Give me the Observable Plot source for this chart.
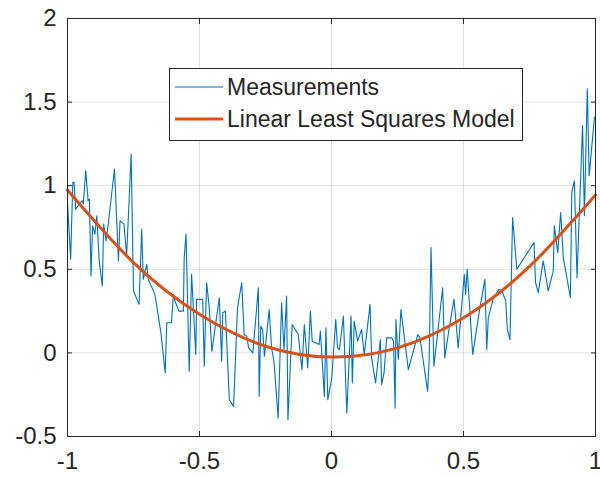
<!DOCTYPE html>
<html>
<head>
<meta charset="utf-8">
<script src="https://cdn.jsdelivr.net/npm/d3@7"></script>
<script src="https://cdn.jsdelivr.net/npm/@observablehq/plot@0.6"></script>
<style>
  body { margin: 0; background: #fff; }
  #wrap { position: relative; width: 600px; height: 477px; font-family: "Liberation Sans", Arial, sans-serif; color: #262626; }
  #wrap svg { display: block; }
  #legend { position: absolute; left: 169px; top: 68px; width: 352px; height: 71px; border: 1px solid #262626; background: #fff; }
  #legend .row { position: absolute; left: 0; height: 30px; display: flex; align-items: center; font-size: 23px; white-space: nowrap; }
  #legend svg { margin-left: 5px; margin-right: 4px; }
</style>
</head>
<body>
<div id="wrap"></div>
<script>
const measX = [-1.000,-0.988,-0.980,-0.975,-0.969,-0.960,-0.950,-0.944,-0.940,-0.931,-0.922,-0.917,-0.911,-0.905,-0.896,-0.889,-0.880,-0.868,-0.863,-0.854,-0.845,-0.822,-0.807,-0.801,-0.786,-0.776,-0.759,-0.750,-0.729,-0.719,-0.713,-0.700,-0.694,-0.669,-0.646,-0.630,-0.624,-0.606,-0.599,-0.593,-0.578,-0.561,-0.558,-0.551,-0.539,-0.530,-0.514,-0.511,-0.488,-0.482,-0.473,-0.463,-0.453,-0.441,-0.425,-0.416,-0.412,-0.402,-0.387,-0.371,-0.356,-0.340,-0.331,-0.321,-0.314,-0.298,-0.277,-0.274,-0.268,-0.261,-0.254,-0.236,-0.227,-0.218,-0.202,-0.189,-0.180,-0.170,-0.165,-0.149,-0.126,-0.112,-0.103,-0.090,-0.080,-0.073,-0.047,-0.042,-0.027,-0.021,-0.014,0.001,0.016,0.023,0.030,0.045,0.058,0.074,0.079,0.086,0.099,0.114,0.124,0.146,0.152,0.167,0.185,0.190,0.199,0.209,0.228,0.235,0.241,0.244,0.253,0.263,0.270,0.291,0.327,0.335,0.364,0.370,0.377,0.388,0.421,0.429,0.446,0.464,0.480,0.503,0.508,0.514,0.535,0.560,0.581,0.588,0.594,0.612,0.634,0.646,0.660,0.666,0.676,0.686,0.702,0.767,0.773,0.783,0.802,0.821,0.840,0.844,0.857,0.868,0.878,0.905,0.910,0.920,0.930,0.951,0.958,0.969,0.976,0.996];
const measY = [0.90,0.56,1.02,1.02,0.86,0.88,0.90,0.91,0.89,1.09,0.91,0.92,0.46,0.76,0.71,0.82,0.55,0.40,0.77,0.67,0.78,1.10,0.55,0.79,0.77,0.58,1.19,0.37,0.29,0.74,0.44,0.53,0.44,0.35,0.12,-0.12,0.18,0.18,0.35,0.31,0.25,0.25,0.57,0.71,-0.11,0.47,-0.01,0.32,0.32,-0.08,0.42,0.27,0.01,0.15,0.33,-0.05,0.24,0.25,-0.28,-0.32,0.27,0.42,0.11,0.10,0.03,0.00,0.39,-0.26,0.16,0.14,-0.02,0.26,0.03,-0.05,-0.39,0.30,0.02,0.34,-0.40,0.17,0.11,-0.10,0.17,-0.09,0.25,0.07,0.05,0.13,-0.26,0.15,-0.28,-0.15,0.20,0.03,0.02,0.22,-0.36,0.22,-0.18,0.19,0.07,0.14,-0.01,0.29,-0.03,-0.18,0.08,-0.19,-0.12,0.09,0.09,0.07,-0.33,0.20,-0.04,0.26,0.17,-0.10,0.11,0.09,-0.23,-0.04,0.63,-0.08,0.39,-0.03,0.15,0.32,0.03,0.47,0.35,0.50,-0.01,0.25,0.44,0.02,0.21,0.32,0.38,0.37,0.31,0.14,0.08,0.81,0.50,0.66,0.42,0.36,0.55,0.37,0.49,0.76,0.60,0.84,0.57,0.33,0.96,1.03,0.45,1.36,0.82,1.58,1.06,1.41];

// Linear least squares model, read at a few x positions
const modelX = [-1, -0.75, -0.5, -0.25, 0, 0.25, 0.5, 0.75, 1];
const modelY = [0.974, 0.540, 0.231, 0.040, -0.025, 0.030, 0.210, 0.517, 0.944];

const xTicks = [-1, -0.5, 0, 0.5, 1];
const yTicks = [-0.5, 0, 0.5, 1, 1.5, 2];

const seriesNames = ["Measurements", "Linear Least Squares Model"];
const seriesColors = ["#0072BD", "#D95319"];

const meas = measX.map((x, i) => ({x, y: measY[i]}));
const model = modelX.map((x, i) => ({x, y: modelY[i]}));
const fmt = d => String(d);

const chart = Plot.plot({
  width: 600,
  height: 477,
  marginLeft: 67,
  marginRight: 5,
  marginTop: 18,
  marginBottom: 41,
  style: { fontFamily: "Liberation Sans, Arial, sans-serif", background: "#fff", color: "#262626" },
  x: { domain: [-1, 1] },
  y: { domain: [-0.5, 2] },
  marks: [
    Plot.gridX(xTicks, { stroke: "#000", strokeOpacity: 0.12 }),
    Plot.gridY(yTicks, { stroke: "#000", strokeOpacity: 0.12 }),
    Plot.line(meas, { x: "x", y: "y", stroke: seriesColors[0], strokeWidth: 1.1 }),
    Plot.line(model, { x: "x", y: "y", stroke: seriesColors[1], strokeWidth: 3, curve: "natural" }),
    Plot.frame({ stroke: "#262626" }),
    Plot.axisX(xTicks, { anchor: "bottom", tickSize: 0, tickPadding: 15, tickFormat: fmt, fontSize: 24, label: null }),
    Plot.axisX(xTicks, { anchor: "bottom", tickSize: -5, text: null, label: null }),
    Plot.axisX(xTicks, { anchor: "top", tickSize: -5, text: null, label: null }),
    Plot.axisY(yTicks, { anchor: "left", tickSize: 0, tickPadding: 11, tickFormat: fmt, fontSize: 24, label: null }),
    Plot.axisY(yTicks, { anchor: "left", tickSize: -5, text: null, label: null }),
    Plot.axisY(yTicks, { anchor: "right", tickSize: -5, text: null, label: null })
  ]
});

const wrap = document.getElementById("wrap");
wrap.appendChild(chart);

const legend = document.createElement("div");
legend.id = "legend";
seriesNames.forEach((name, i) => {
  const row = document.createElement("div");
  row.className = "row";
  row.style.top = (i === 0 ? 3 : 35) + "px";
  row.innerHTML = `<svg width="48" height="6"><line x1="0" y1="3" x2="48" y2="3" stroke="${seriesColors[i]}" stroke-width="${i === 0 ? 1.1 : 3}"/></svg><span>${name}</span>`;
  legend.appendChild(row);
});
wrap.appendChild(legend);
</script>
</body>
</html>
